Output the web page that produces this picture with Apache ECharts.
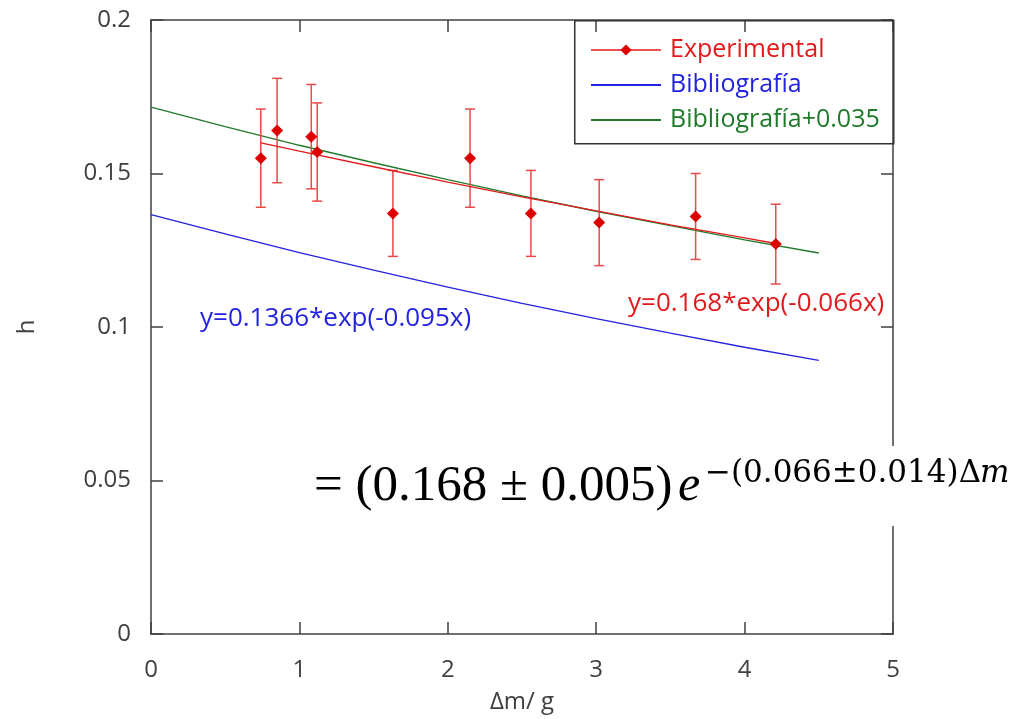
<!DOCTYPE html>
<html>
<head>
<meta charset="utf-8">
<script src="https://cdn.jsdelivr.net/npm/echarts@6/dist/echarts.min.js"></script>
<style>
html,body{margin:0;padding:0;background:#fff;}
#chart{width:1034px;height:719px;}
</style>
</head>
<body>
<div id="chart"></div>
<script>
// ---- data ----
var expX   = [0.74, 0.85, 1.08, 1.12, 1.63, 2.15, 2.56, 3.02, 3.67, 4.21];
var expY   = [0.155, 0.164, 0.162, 0.157, 0.137, 0.155, 0.137, 0.134, 0.136, 0.127];
var expErr = [0.016, 0.017, 0.017, 0.016, 0.014, 0.016, 0.014, 0.014, 0.014, 0.013];

var fitX = [0.74, 1.0, 1.5, 2.0, 2.5, 3.0, 3.5, 4.0, 4.21];
var fitY = [0.1600, 0.1573, 0.1522, 0.1472, 0.1424, 0.1378, 0.1333, 0.1290, 0.1272];

var bibX  = [0, 0.5, 1.0, 1.5, 2.0, 2.5, 3.0, 3.5, 4.0, 4.5];
var bibY  = [0.1366, 0.1303, 0.1242, 0.1185, 0.1130, 0.1077, 0.1027, 0.0980, 0.0934, 0.0891];
var bib2Y = [0.1716, 0.1653, 0.1592, 0.1535, 0.1480, 0.1427, 0.1377, 0.1330, 0.1284, 0.1241];

var seriesNames = ['Experimental', 'Bibliografía', 'Bibliografía+0.035'];
var xTicks = [0, 1, 2, 3, 4, 5];
var yTicks = [0, 0.05, 0.1, 0.15, 0.2];

// ---- styling ----
var RED = '#e31a1c', RED_ERR = '#e84a4a', BLUE = '#2323e0', GREEN = '#1f7a2a', AXIS = '#404040';
var FONT = 'Open Sans';

function zip(a, b) { return a.map(function (v, i) { return [v, b[i]]; }); }

var errData = expX.map(function (x, i) { return [x, expY[i] - expErr[i], expY[i] + expErr[i]]; });

var axisCommon = {
  axisLine: { show: true, onZero: false, lineStyle: { color: AXIS, width: 1.5 } },
  axisTick: { show: true, inside: true, length: 12, lineStyle: { color: AXIS, width: 1.5 } },
  splitLine: { show: false }
};

var chart = echarts.init(document.getElementById('chart'), null, { renderer: 'canvas' });
chart.setOption({
  backgroundColor: '#fff',
  animation: false,
  grid: { left: 151, right: 141, top: 20, bottom: 84, containLabel: false },
  xAxis: [
    Object.assign({
      type: 'value', min: xTicks[0], max: xTicks[xTicks.length - 1], interval: 1,
      position: 'bottom',
      name: 'Δm/ g', nameLocation: 'middle', nameGap: 56,
      nameTextStyle: { fontFamily: FONT, fontSize: 24, color: AXIS },
      axisLabel: { margin: 24, fontFamily: FONT, fontSize: 24, color: AXIS }
    }, axisCommon),
    Object.assign({
      type: 'value', min: xTicks[0], max: xTicks[xTicks.length - 1], interval: 1,
      position: 'top', axisLabel: { show: false }
    }, axisCommon)
  ],
  yAxis: [
    Object.assign({
      type: 'value', min: yTicks[0], max: yTicks[yTicks.length - 1], interval: 0.05,
      position: 'left',
      name: 'h', nameLocation: 'middle', nameGap: 112, nameRotate: 90,
      nameTextStyle: { fontFamily: FONT, fontSize: 24, color: AXIS },
      axisLabel: { margin: 20, fontFamily: FONT, fontSize: 24, color: AXIS }
    }, axisCommon),
    Object.assign({
      type: 'value', min: yTicks[0], max: yTicks[yTicks.length - 1], interval: 0.05,
      position: 'right', axisLabel: { show: false }
    }, axisCommon)
  ],
  legend: {
    show: true,
    orient: 'vertical',
    left: 590, top: 37,
    padding: 0,
    itemWidth: 70, itemHeight: 14, itemGap: 9,
    selectedMode: false,
    textStyle: { fontFamily: FONT, fontSize: 25, lineHeight: 26, padding: [0, 0, 0, 4] },
    data: [
      { name: seriesNames[0], textStyle: { color: RED }, lineStyle: { color: RED, width: 1.5, opacity: 1 }, itemStyle: { color: '#dd0000' } },
      { name: seriesNames[1], textStyle: { color: BLUE }, itemStyle: { opacity: 0 } },
      { name: seriesNames[2], textStyle: { color: GREEN }, itemStyle: { opacity: 0 } }
    ]
  },
  graphic: [
    { type: 'rect', left: 574, top: 20, z: 100, silent: true,
      shape: { width: 319, height: 123 },
      style: { fill: 'rgba(0,0,0,0)', stroke: '#333', lineWidth: 1.5 } },
    { type: 'text', left: 200, top: 306, z: 100,
      style: { text: 'y=0.1366*exp(-0.095x)', fill: BLUE, font: '26px "Open Sans"' } },
    { type: 'text', left: 628, top: 291, z: 100,
      style: { text: 'y=0.168*exp(-0.066x)', fill: RED, font: '26px "Open Sans"' } },
    { type: 'rect', left: 300, top: 446, z: 100, silent: true,
      shape: { width: 730, height: 80 }, style: { fill: '#fff' } },
    { type: 'text', x: 314, y: 487, z: 101,
      style: { text: '= (0.168 ± 0.005)', fill: '#000', font: '51px "Liberation Serif"', verticalAlign: 'middle', align: 'left' } },
    { type: 'text', x: 678, y: 487, z: 101,
      style: { text: 'e', fill: '#000', font: 'italic 50px "Liberation Serif"', verticalAlign: 'middle', align: 'left' } },
    { type: 'text', x: 705, y: 474, z: 101,
      style: { text: '−(0.066±0.014)Δ', fill: '#000', font: '31px "DejaVu Serif"', verticalAlign: 'middle', align: 'left' } },
    { type: 'text', x: 980, y: 474, z: 101,
      style: { text: 'm', fill: '#000', font: 'italic 31px "DejaVu Serif"', verticalAlign: 'middle', align: 'left' } }
  ],
  series: [
    {
      name: 'errbars', type: 'custom', z: 3,
      data: errData,
      encode: { x: 0, y: [1, 2] },
      renderItem: function (params, api) {
        var x = api.value(0);
        var lo = api.coord([x, api.value(1)]);
        var hi = api.coord([x, api.value(2)]);
        var hw = 5;
        var st = { stroke: RED_ERR, lineWidth: 1.5, fill: null };
        return {
          type: 'group',
          children: [
            { type: 'line', shape: { x1: lo[0], y1: lo[1], x2: hi[0], y2: hi[1] }, style: st },
            { type: 'line', shape: { x1: lo[0] - hw, y1: lo[1], x2: lo[0] + hw, y2: lo[1] }, style: st },
            { type: 'line', shape: { x1: hi[0] - hw, y1: hi[1], x2: hi[0] + hw, y2: hi[1] }, style: st }
          ]
        };
      }
    },
    {
      name: seriesNames[1], type: 'line', data: zip(bibX, bibY),
      showSymbol: false, symbol: 'none', smooth: false, z: 2,
      lineStyle: { color: BLUE, width: 1.3 }, itemStyle: { color: BLUE }
    },
    {
      name: seriesNames[2], type: 'line', data: zip(bibX, bib2Y),
      showSymbol: false, symbol: 'none', z: 2,
      lineStyle: { color: GREEN, width: 1.3 }, itemStyle: { color: GREEN }
    },
    {
      name: 'fit', type: 'line', data: zip(fitX, fitY),
      showSymbol: false, symbol: 'none', z: 4,
      lineStyle: { color: RED, width: 1.3 }, itemStyle: { color: RED }
    },
    {
      name: seriesNames[0], type: 'line', data: zip(expX, expY),
      symbol: 'diamond', symbolSize: 12, showSymbol: true, z: 5,
      lineStyle: { color: RED, width: 0, opacity: 0 },
      itemStyle: { color: '#dd0000' }
    }
  ]
});
</script>
</body>
</html>
